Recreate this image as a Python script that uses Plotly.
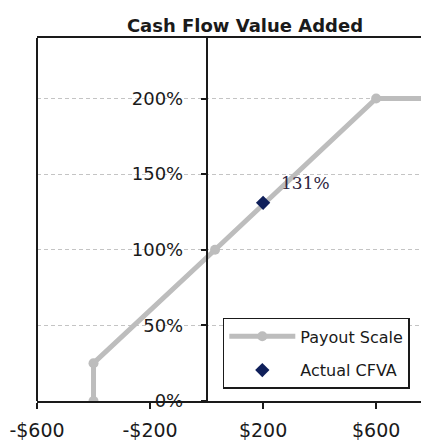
import plotly.graph_objects as go

# Payout scale (CFVA in $ vs payout %)
payout_x = [-400, -400, 30, 600, 1000]
payout_y = [0, 25, 100, 200, 200]

# Actual CFVA result
actual_x = [200]
actual_y = [131]
actual_label = "131%"

x_ticks = [-600, -200, 200, 600]
x_tick_text = ["-$600", "-$200", "$200", "$600"]
y_ticks = [0, 50, 100, 150, 200]
y_tick_text = ["0%", "50%", "100%", "150%", "200%"]

x_range = [-600, 787]
y_range = [0, 240]

font_family = "'DejaVu Sans', sans-serif"
ink = '#1a1a1a'
payout_grey = '#bdbdbd'

fig = go.Figure()

fig.add_trace(go.Scatter(
    x=payout_x, y=payout_y,
    mode='lines+markers',
    name='Payout Scale',
    legendgroup='a',
    line=dict(color=payout_grey, width=5),
    marker=dict(color=payout_grey, size=10),
))

fig.add_trace(go.Scatter(
    x=actual_x, y=actual_y,
    mode='markers',
    name='Actual CFVA',
    legendgroup='b',
    marker=dict(color='#0f1f5a', size=11, symbol='diamond'),
))

fig.add_annotation(
    x=actual_x[0], y=actual_y[0], text=actual_label, showarrow=False,
    xanchor='left', yanchor='middle', xshift=16, yshift=20,
    font=dict(family="'DejaVu Serif', serif", size=17, color='#2e2440'),
)

# left border of plot area
fig.add_shape(type='line', xref='paper', yref='paper', x0=0, x1=0, y0=0, y1=1,
              line=dict(color=ink, width=2))

zero_pos = (0 - x_range[0]) / (x_range[1] - x_range[0])

# page body has an 8px margin, so the figure is sized to fill the rest
fig.update_layout(
    width=421, height=435,
    margin=dict(l=29, r=0, t=30, b=42),
    paper_bgcolor='white', plot_bgcolor='white',
    font=dict(family=font_family, color=ink),
    title=dict(text='<b>Cash Flow Value Added</b>', x=237 / 421, xanchor='center',
               y=1 - 18 / 435, yanchor='middle', font=dict(size=18, color=ink)),
    xaxis=dict(
        range=x_range, tickvals=x_ticks, ticktext=x_tick_text,
        showgrid=False, zeroline=False,
        showline=True, linecolor=ink, linewidth=2, mirror=True,
        ticks='outside', ticklen=6, tickcolor=ink, tickwidth=1.5,
        ticklabelstandoff=5,
        tickfont=dict(size=19, color=ink),
    ),
    yaxis=dict(
        range=y_range, tickvals=y_ticks, ticktext=y_tick_text,
        anchor='free', position=zero_pos,
        showgrid=True, gridcolor='#c4c4c4', griddash='4px,3px', gridwidth=1,
        zeroline=False,
        showline=True, linecolor=ink, linewidth=1.5,
        ticks='outside', ticklen=5, tickcolor=ink, tickwidth=1.5,
        ticklabelstandoff=14,
        tickfont=dict(size=18, color=ink),
    ),
    legend=dict(
        x=0.474, y=0.229, xanchor='left', yanchor='top',
        bgcolor='white', bordercolor=ink, borderwidth=1.5,
        font=dict(size=16, color=ink),
        itemwidth=66, tracegroupgap=10,
        entrywidth=185, entrywidthmode='pixels',
    ),
)

fig.write_html("out.html")
